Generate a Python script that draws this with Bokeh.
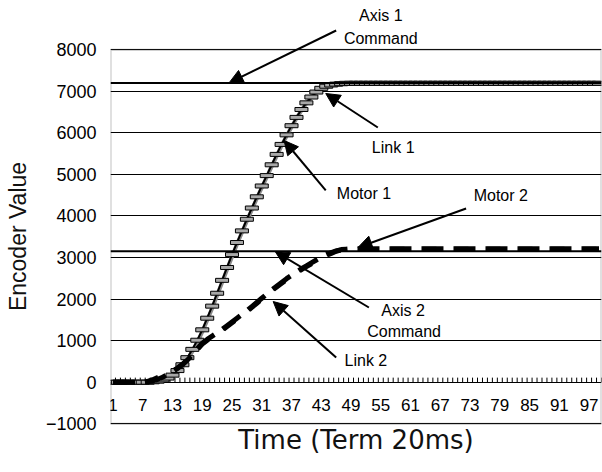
from bokeh.plotting import figure
from bokeh.models import (Arrow, NormalHead, Label, ColumnDataSource, FixedTicker,
                          Range1d, Span, BoxAnnotation)
from bokeh.embed import file_html
from bokeh.resources import INLINE
from bokeh.core.properties import value

# ---------------- data ----------------
time = list(range(1, 100))

motor1 = [0, 0, 0, 0, 0, 0, 0, 0, 10, 25,
          55, 100, 170, 280, 420, 590, 790, 1010, 1260, 1540,
          1830, 2140, 2450, 2760, 3070, 3360, 3640, 3920, 4190, 4460,
          4720, 4970, 5230, 5480, 5720, 5950, 6170, 6370, 6560, 6720,
          6860, 6980, 7070, 7120, 7150, 7170, 7180, 7190, 7190, 7190,
          7190, 7190, 7190, 7190, 7190, 7190, 7190, 7190, 7190, 7190,
          7190, 7190, 7190, 7190, 7190, 7190, 7190, 7190, 7190, 7190,
          7190, 7190, 7190, 7190, 7190, 7190, 7190, 7190, 7190, 7190,
          7190, 7190, 7190, 7190, 7190, 7190, 7190, 7190, 7190, 7190,
          7190, 7190, 7190, 7190, 7190, 7190, 7190, 7190, 7190]

link1 = [0, 0, 0, 0, 0, 0, 0, 0, 5, 15,
         40, 80, 140, 240, 370, 540, 740, 960, 1210, 1490,
         1780, 2090, 2400, 2710, 3020, 3320, 3600, 3880, 4150, 4420,
         4680, 4930, 5190, 5440, 5690, 5920, 6140, 6350, 6540, 6710,
         6860, 6990, 7080, 7140, 7170, 7190, 7190, 7190, 7190, 7190,
         7190, 7190, 7190, 7190, 7190, 7190, 7190, 7190, 7190, 7190,
         7190, 7190, 7190, 7190, 7190, 7190, 7190, 7190, 7190, 7190,
         7190, 7190, 7190, 7190, 7190, 7190, 7190, 7190, 7190, 7190,
         7190, 7190, 7190, 7190, 7190, 7190, 7190, 7190, 7190, 7190,
         7190, 7190, 7190, 7190, 7190, 7190, 7190, 7190, 7190]

motor2 = [0, 0, 0, 0, 0, 0, 0, 10, 30, 70,
          120, 180, 250, 330, 420, 530, 660, 800, 940, 1030,
          1110, 1190, 1270, 1360, 1450, 1540, 1630, 1720, 1820, 1920,
          2020, 2120, 2220, 2310, 2400, 2490, 2570, 2650, 2730, 2800,
          2870, 2940, 3010, 3070, 3120, 3160, 3190, 3200, 3210, 3210,
          3210, 3210, 3210, 3210, 3210, 3210, 3210, 3210, 3210, 3210,
          3210, 3210, 3210, 3210, 3210, 3210, 3210, 3210, 3210, 3210,
          3210, 3210, 3210, 3210, 3210, 3210, 3210, 3210, 3210, 3210,
          3210, 3210, 3210, 3210, 3210, 3210, 3210, 3210, 3210, 3210,
          3210, 3210, 3210, 3210, 3210, 3210, 3210, 3210, 3210]

link2 = [0, 0, 0, 0, 0, 0, 0, 20, 60, 110,
         160, 210, 270, 340, 430, 540, 660, 790, 920, 1010,
         1090, 1170, 1250, 1340, 1430, 1520, 1610, 1700, 1800, 1900,
         2000, 2100, 2200, 2290, 2380, 2470, 2550, 2630, 2710, 2780,
         2850, 2920, 2990, 3050, 3100, 3150, 3180, 3190, 3200, 3200,
         3200, 3200, 3200, 3200, 3200, 3200, 3200, 3200, 3200, 3200,
         3200, 3200, 3200, 3200, 3200, 3200, 3200, 3200, 3200, 3200,
         3200, 3200, 3200, 3200, 3200, 3200, 3200, 3200, 3200, 3200,
         3200, 3200, 3200, 3200, 3200, 3200, 3200, 3200, 3200, 3200,
         3200, 3200, 3200, 3200, 3200, 3200, 3200, 3200, 3200]

axis1_command = 7200
axis2_command = 3150

x_tick_labels = [1, 7, 13, 19, 25, 31, 37, 43, 49, 55, 61, 67, 73, 79, 85, 91, 97]
y_ticks = [-1000, 0, 1000, 2000, 3000, 4000, 5000, 6000, 7000, 8000]
x_title = "Time (Term 20ms)"
y_title = "Encoder Value"

# annotation texts: (text, time, value)
notes = [("Axis 1", 55.0, 8830), ("Command", 55.0, 8275),
         ("Link 1", 57.5, 5645), ("Motor 1", 51.6, 4540),
         ("Motor 2", 79.2, 4490), ("Axis 2", 59.5, 1725),
         ("Command", 59.7, 1220), ("Link 2", 52.0, 520)]
# arrows: (x_start, y_start, x_tip, y_tip)
arrows = [(46.0, 8460, 24.4, 7200),
          (54.4, 6127, 43.9, 6945),
          (43.9, 4613, 35.5, 5814),
          (72.2, 4178, 50.4, 3240),
          (52.6, 1797, 33.7, 3144),
          (46.0, 594, 33.3, 1941)]

# ---------------- figure ----------------
p = figure(width=602, height=472, output_backend="svg", toolbar_location=None,
           x_range=Range1d(0.5, 99.5), y_range=Range1d(-2172, 9182),
           min_border_left=110, min_border_right=1, min_border_top=0,
           min_border_bottom=0)
p.background_fill_color = "white"
p.border_fill_color = "white"
p.outline_line_color = None

p.xaxis.visible = False
p.xgrid.visible = False
p.ygrid.ticker = FixedTicker(ticks=y_ticks)
p.ygrid.grid_line_color = "black"
p.ygrid.grid_line_width = 1.2

# plot-area frame
p.add_layout(BoxAnnotation(left=0.5, right=99.5, bottom=-1000, top=8000,
                           fill_alpha=0, line_color="#333333", line_width=2))

# y axis
p.yaxis.ticker = FixedTicker(ticks=y_ticks)
p.yaxis.major_tick_out = 0
p.yaxis.major_tick_in = 0
p.yaxis.minor_tick_line_color = None
p.yaxis.axis_line_color = None
p.yaxis.major_label_standoff = 14
p.yaxis.major_label_text_font = "Liberation Sans"
p.yaxis.major_label_text_font_size = "18px"
p.yaxis.major_label_text_color = "black"
p.yaxis.axis_label = y_title
p.yaxis.axis_label_text_font = "Liberation Sans"
p.yaxis.axis_label_text_font_size = "23px"
p.yaxis.axis_label_text_font_style = "normal"
p.yaxis.axis_label_text_color = "#111111"
p.yaxis.axis_label_standoff = 12

# category tick marks on the zero line
tick_src = ColumnDataSource(dict(x=[t + 0.5 for t in time]))
p.segment(x0="x", y0=0, x1="x", y1=110, source=tick_src, line_color="black", line_width=1)

# category labels
lab_src = ColumnDataSource(dict(x=x_tick_labels, y=[-560] * len(x_tick_labels),
                                t=[str(v) for v in x_tick_labels]))
p.text(x="x", y="y", text="t", source=lab_src, text_align="center",
       text_baseline="middle", text_font=value("Liberation Sans"),
       text_font_size="17px", text_color="black")

# x-axis title
p.add_layout(Label(x=50, y=-1400, text=x_title, text_align="center",
                   text_baseline="middle", text_font="DejaVu Sans",
                   text_font_size="26px", text_color="#111111"))

# command lines
p.add_layout(Span(location=axis1_command, dimension="width", line_color="black", line_width=2))
p.add_layout(Span(location=axis2_command, dimension="width", line_color="black", line_width=2))

src = ColumnDataSource(dict(t=time, m1=motor1, l1=link1, m2=motor2, l2=link2))

# Link 1 (grey thick)
p.line("t", "l1", source=src, line_color="#8a8a8a", line_width=4)
# Motor 1 (line with dash markers)
p.line("t", "m1", source=src, line_color="black", line_width=2)
p.rect("t", "m1", width=13, height=4, width_units="screen", height_units="screen",
       source=src, fill_color="#a8a8a8", line_color="black", line_width=1)
# Link 2 / Motor 2 (thick dashed)
p.line("t", "l2", source=src, line_color="black", line_width=5, line_dash="14 18")
p.line("t", "m2", source=src, line_color="black", line_width=5, line_dash="22 10")

# arrows
for (x0, y0, x1, y1) in arrows:
    p.add_layout(Arrow(end=NormalHead(size=14, fill_color="black", line_color="black"),
                       x_start=x0, y_start=y0, x_end=x1, y_end=y1,
                       line_color="black", line_width=2))

# annotation texts
for (txt, tx, ty) in notes:
    p.add_layout(Label(x=tx, y=ty, text=txt, text_align="center", text_baseline="middle",
                       text_font="Liberation Sans", text_font_size="16px",
                       text_color="black"))

open("out.html", "w").write(file_html(p, INLINE))
